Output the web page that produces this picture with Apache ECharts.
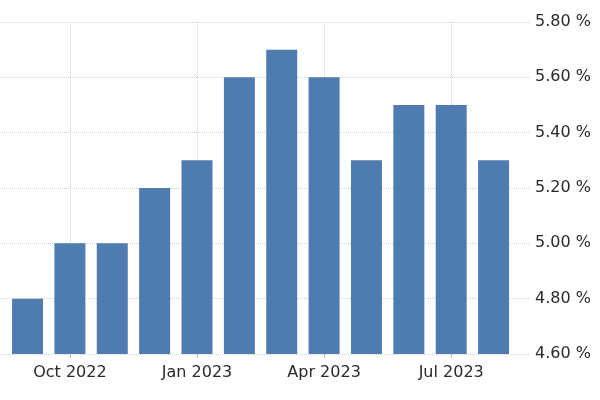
<!DOCTYPE html>
<html>
<head>
<meta charset="utf-8">
<script src="https://cdn.jsdelivr.net/npm/echarts@6/dist/echarts.min.js"></script>
<style>
  html, body { margin: 0; padding: 0; background: #fff; }
  #main { width: 600px; height: 400px; }
</style>
</head>
<body>
<div id="main"></div>
<script>
  // monthly values, Sep 2022 .. Aug 2023
  var months = ['Sep 2022', 'Oct 2022', 'Nov 2022', 'Dec 2022', 'Jan 2023', 'Feb 2023',
    'Mar 2023', 'Apr 2023', 'May 2023', 'Jun 2023', 'Jul 2023', 'Aug 2023']
  var rates = [4.80, 5.00, 5.00, 5.20, 5.30, 5.60, 5.70, 5.60, 5.30, 5.50, 5.50, 5.30]
  // month indexes that get a label
  var labelIdx = [1, 4, 7, 10]
  var yTicks = [4.6, 4.8, 5.0, 5.2, 5.4, 5.6, 5.8]

  var chart = echarts.init(document.getElementById('main'))
  var points = rates.map(function (v, i) { return [i, v] })

  var option = {
    animation: false,
    grid: { left: 0, right: 70, top: 22, bottom: 46 },
    xAxis: {
      type: 'value',
      min: -0.65,
      max: 11.86,
      axisLine: { show: false },
      axisTick: {
        show: true,
        customValues: labelIdx,
        length: 4,
        lineStyle: { color: '#bbb' }
      },
      axisLabel: {
        customValues: labelIdx,
        margin: 11,
        color: '#2a2a2a',
        fontFamily: 'DejaVu Sans',
        fontSize: 16,
        formatter: function (v) { return months[Math.round(v)] }
      },
      splitLine: {
        show: true,
        lineStyle: { color: '#cfcfcf', type: 'dotted', width: 1 }
      }
    },
    yAxis: {
      type: 'value',
      position: 'right',
      min: yTicks[0],
      max: yTicks[yTicks.length - 1],
      interval: 0.2,
      axisLine: { show: false },
      axisTick: { show: false },
      axisLabel: {
        margin: 5,
        color: '#2a2a2a',
        fontFamily: 'DejaVu Sans',
        fontSize: 16,
        formatter: function (v) { return v.toFixed(2) + ' %' }
      },
      splitLine: {
        show: true,
        lineStyle: { color: '#cfcfcf', type: 'dotted', width: 1 }
      }
    },
    series: [{
      type: 'bar',
      data: points,
      barWidth: 31,
      itemStyle: { color: '#4f7cb0' }
    }]
  }
  chart.setOption(option)
</script>
</body>
</html>
